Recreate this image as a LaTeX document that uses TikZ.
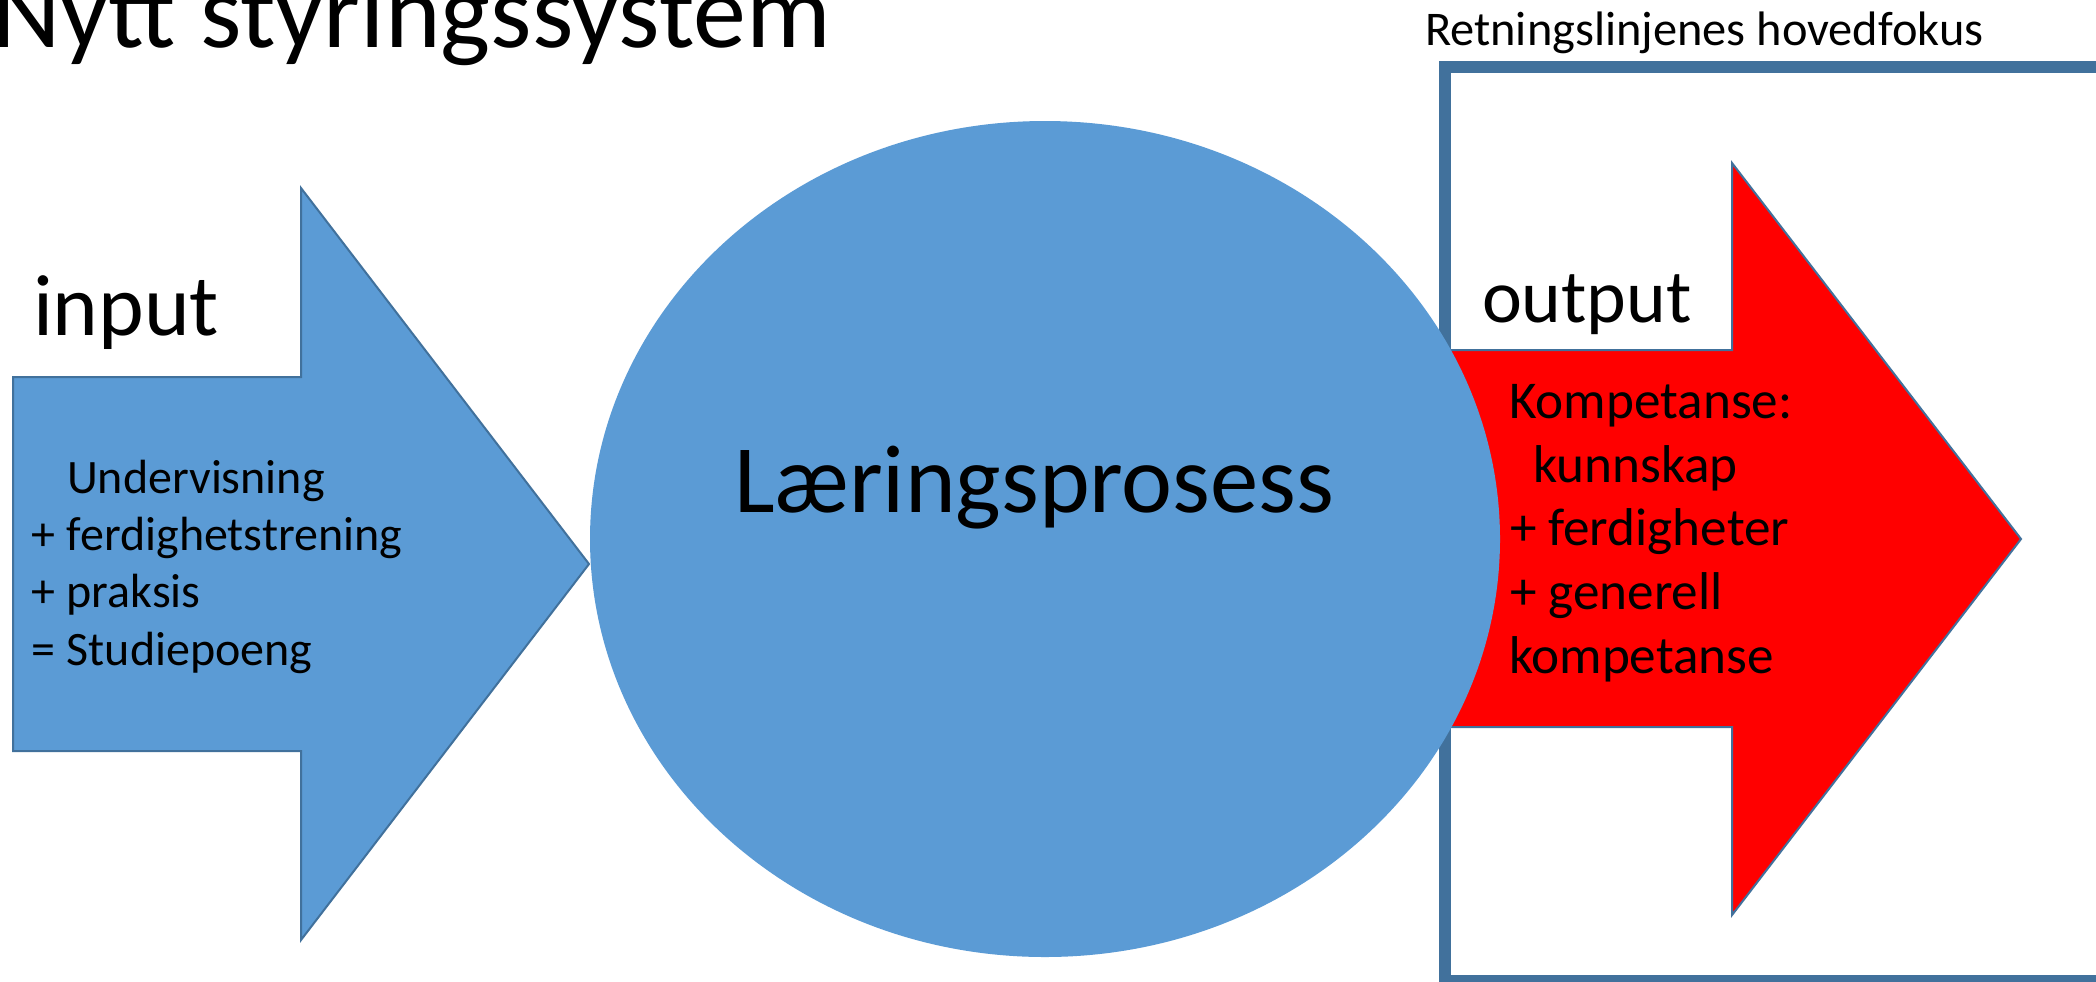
\documentclass[tikz,border=0pt]{standalone}
\usepackage{fontspec}
\setmainfont{Carlito}
\usetikzlibrary{shapes.geometric}
\definecolor{accblue}{HTML}{5B9BD5}
\definecolor{accdark}{HTML}{41719C}
\definecolor{boxline}{HTML}{41719C}
\begin{document}
\begin{tikzpicture}[x=0.5pt,y=-0.5pt,
  arrowshape/.style={draw=accdark, line width=1pt, line join=miter},
  lbl/.style={anchor=base west, inner sep=0pt, outer sep=0pt, text=black},
  listin/.style={lbl, font=\fontsize{24}{28}\selectfont},
  listout/.style={lbl, font=\fontsize{26.6}{31}\selectfont}]
\useasboundingbox (0,0) rectangle (2096,981);
\clip (0,0) rectangle (2096,981);
\fill[white] (0,0) rectangle (2096,981);
% frame for the main focus
\draw[boxline, line width=6pt] (1445,67) rectangle (2250,981);
% output arrow
\draw[arrowshape, fill=red] (1440,350) -- (1732,350) -- (1732,163) -- (2021,539)
  -- (1732,915) -- (1732,727) -- (1440,727) -- cycle;
% input arrow
\draw[arrowshape, fill=accblue] (13,377) -- (301,377) -- (301,188) -- (589,564)
  -- (301,940) -- (301,751) -- (13,751) -- cycle;
% learning process
\node[ellipse, fill=accblue, minimum width=455pt, minimum height=418pt, inner sep=0pt] (proc) at (1045,539) {};
% texts
\node[lbl, font=\fontsize{53}{60}\selectfont] (title) at (-8,47) {Nytt styringssystem};
\node[lbl, font=\fontsize{24.2}{28}\selectfont] (focus) at (1425,45) {Retningslinjenes hovedfokus};
\node[lbl, font=\fontsize{43.5}{50}\selectfont] (input) at (33,335) {input};
\node[lbl, font=\fontsize{37.8}{46}\selectfont] (output) at (1482,322) {output};
\node[lbl, font=\fontsize{48.3}{56}\selectfont] (proctext) at (734,512) {Læringsprosess};
\node[listin] (in1) at (67,493) {Undervisning};
\node[listin] (in2) at (32,550) {+ ferdighetstrening};
\node[listin] (in3) at (32,607) {+ praksis};
\node[listin] (in4) at (32,665) {= Studiepoeng};
\node[listout] (out1) at (1509,418) {Kompetanse:};
\node[listout] (out2) at (1533,482) {kunnskap};
\node[listout] (out3) at (1510,545) {+ ferdigheter};
\node[listout] (out4) at (1510,609) {+ generell};
\node[listout] (out5) at (1509,673) {kompetanse};
\end{tikzpicture}
\end{document}
